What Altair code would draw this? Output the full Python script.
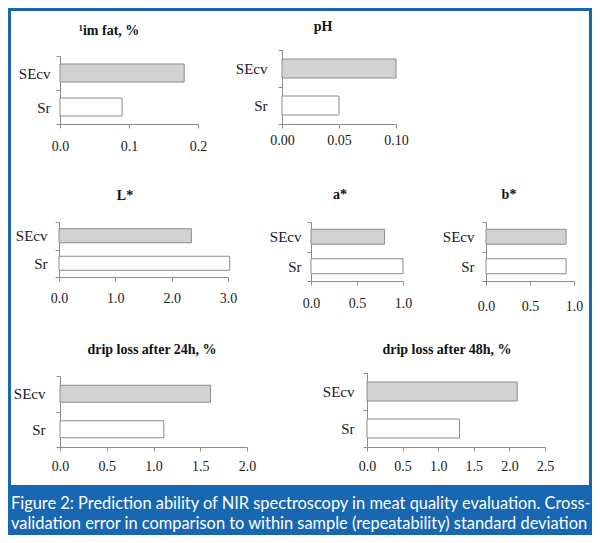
import altair as alt
import pandas as pd

# ---- data ----
categories = ["SEcv", "Sr"]
titles = ["¹im fat, %", "pH", "L*", "a*", "b*",
          "drip loss after 24h, %", "drip loss after 48h, %"]
secv_values = [0.18, 0.10, 2.35, 0.80, 0.91, 1.61, 2.11]
sr_values = [0.09, 0.05, 3.03, 1.00, 0.91, 1.11, 1.30]
x_max = [0.2, 0.1, 3.0, 1.0, 1.0, 2.0, 2.5]
tick_values = [[0, 0.1, 0.2], [0, 0.05, 0.1], [0, 1, 2, 3], [0, 0.5, 1],
               [0, 0.5, 1], [0, 0.5, 1, 1.5, 2], [0, 0.5, 1, 1.5, 2, 2.5]]
tick_formats = [".1f", ".2f", ".1f", ".1f", ".1f", ".1f", ".1f"]
caption_lines = [
    "Figure 2: Prediction ability of NIR spectroscopy in meat quality evaluation. Cross-",
    "validation error in comparison to within sample (repeatability) standard deviation",
]

# ---- layout (pixels inside the chart) ----
W, H = 584, 527
BLUE = "#1767b2"
GRID = "#8c8c8c"
# x0, x1, y0, y1, bar thickness, title x, title y, y-label gap, x-label gap
layout = [
    (52, 190, 48, 116, 18, 101, 23, 10, 15),
    (274, 388, 42, 116, 19, 315, 19, 15, 9),
    (51, 220, 214, 269, 14, 117, 188, 12, 14),
    (303, 395, 214, 273, 15, 332, 187, 10, 15),
    (478, 566, 214, 273, 15, 501, 187, 12, 18),
    (52, 239, 368, 439, 17, 144, 342, 15, 12),
    (359, 537, 365, 439, 19, 439, 342, 13, 12),
]

layers = []
for i, (x0, x1, y0, y1, bh, tx, ty, ygap, xgap) in enumerate(layout):
    df = pd.DataFrame({"cat": categories, "val": [secv_values[i], sr_values[i]]})
    bars = alt.Chart(df).mark_bar(size=bh, stroke=GRID, strokeWidth=1).encode(
        x=alt.X("val:Q",
                scale=alt.Scale(domain=[0, x_max[i]], range=[x0, x1], nice=False, zero=True),
                axis=alt.Axis(orient="bottom", offset=y1 - H, values=tick_values[i],
                              format=tick_formats[i], title=None, grid=False,
                              tickSize=4, labelPadding=xgap - 4, labelFontSize=14,
                              labelFlush=False, labelOverlap=False)),
        y=alt.Y("cat:N", sort=categories,
                scale=alt.Scale(domain=categories, range=[y0, y1],
                                paddingInner=0, paddingOuter=0),
                axis=alt.Axis(orient="left", offset=-x0, tickBand="extent", title=None,
                              tickSize=4, labelPadding=ygap - 4, labelFontSize=15)),
        color=alt.Color("cat:N", scale=alt.Scale(domain=categories,
                                                 range=["#d2d2d2", "#ffffff"]),
                        legend=None),
    )
    layers.append(bars)
    title = alt.Chart(pd.DataFrame({"t": [titles[i]]})).mark_text(
        font="Liberation Serif", fontWeight="bold", fontSize=14, color="#111111",
        baseline="middle", align="center"
    ).encode(text="t:N", x=alt.value(tx), y=alt.value(ty))
    layers.append(title)

caption_box = alt.Chart(pd.DataFrame({"a": [0]})).mark_rect(color=BLUE).encode(
    x=alt.value(0), x2=alt.value(W), y=alt.value(477), y2=alt.value(H))
layers.append(caption_box)
for j, line in enumerate(caption_lines):
    layers.append(
        alt.Chart(pd.DataFrame({"t": [line]})).mark_text(
            font="Lato", fontSize=16.4, color="white", align="left", baseline="middle"
        ).encode(text="t:N", x=alt.value(3), y=alt.value(496 + 20 * j))
    )

chart = alt.layer(*layers).resolve_scale(
    x="independent", y="independent"
).properties(
    width=W, height=H, autosize=alt.AutoSizeParams(type="none"), padding=0
).configure_view(
    stroke=BLUE, strokeWidth=6
).configure_axis(
    labelFont="Liberation Serif", labelColor="#1a1a1a",
    domainColor=GRID, tickColor=GRID, domainWidth=1, tickWidth=1
)

chart.save("out.html", embed_options={"renderer": "svg", "actions": False})
